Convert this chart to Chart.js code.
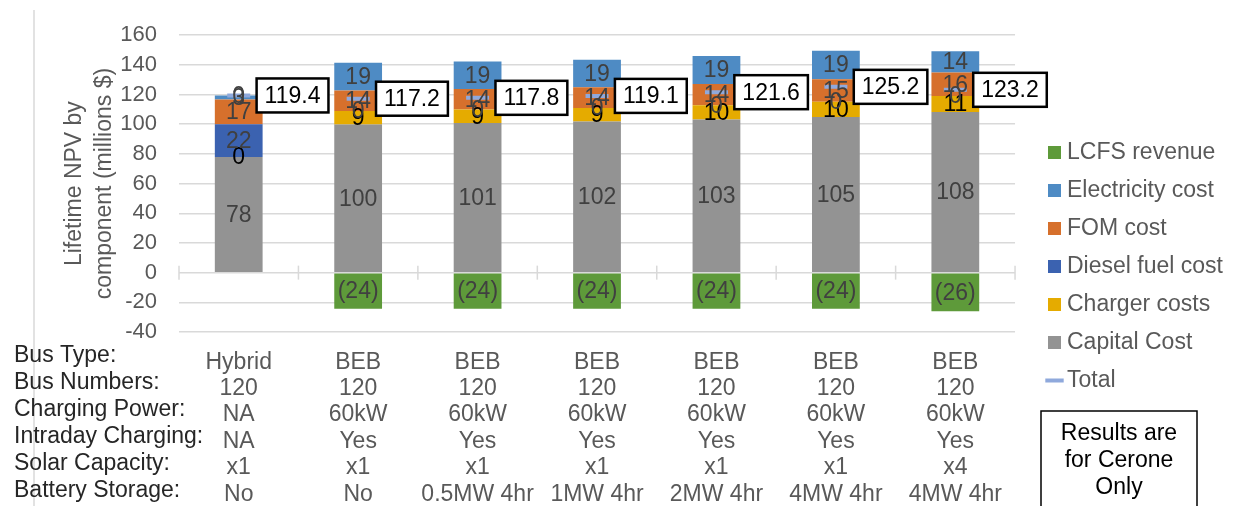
<!DOCTYPE html>
<html>
<head>
<meta charset="utf-8">
<script src="https://cdn.jsdelivr.net/npm/chart.js@4"></script>
<style>
  html, body { margin: 0; padding: 0; background: #ffffff; }
  #wrap { width: 1237px; height: 506px; position: relative; }
</style>
</head>
<body>
<div id="wrap"><canvas id="c" width="1237" height="506"></canvas></div>
<script>
// ---------------- data ----------------
const busType          = ['Hybrid', 'BEB', 'BEB', 'BEB', 'BEB', 'BEB', 'BEB'];
const busNumbers       = ['120', '120', '120', '120', '120', '120', '120'];
const chargingPower    = ['NA', '60kW', '60kW', '60kW', '60kW', '60kW', '60kW'];
const intradayCharging = ['NA', 'Yes', 'Yes', 'Yes', 'Yes', 'Yes', 'Yes'];
const solarCapacity    = ['x1', 'x1', 'x1', 'x1', 'x1', 'x1', 'x4'];
const batteryStorage   = ['No', 'No', '0.5MW 4hr', '1MW 4hr', '2MW 4hr', '4MW 4hr', '4MW 4hr'];
const rowTitles = ['Bus Type:', 'Bus Numbers:', 'Charging Power:', 'Intraday Charging:', 'Solar Capacity:', 'Battery Storage:'];

const capitalCost     = [77.9, 99.8, 100.9, 101.8, 103.2, 104.8, 108.2];
const chargerCosts    = [0, 9.1, 9.0, 9.2, 9.6, 10.3, 10.9];
const dieselFuelCost  = [22.1, 0, 0, 0, 0, 0, 0];
const fomCost         = [16.6, 13.9, 13.8, 14.0, 14.3, 15.2, 15.8];
const electricityCost = [2.8, 18.7, 18.5, 18.5, 18.8, 19.3, 14.3];
const lcfsRevenue     = [0, -24.3, -24.4, -24.4, -24.3, -24.4, -26.0];
const totalNPV        = [119.4, 117.2, 117.8, 119.1, 121.6, 125.2, 123.2];

const yTitle = ['Lifetime NPV by', 'component (millions $)'];
const noteLines = ['Results are', 'for Cerone', 'Only'];

// ---------------- styling ----------------
const FONT = "'Liberation Sans', Arial, sans-serif";
Chart.defaults.font.family = FONT;
const GRID = '#D9D9D9';
const TEXT_GRAY = '#595959';

const categories = busType.map((b, i) => [b, busNumbers[i], chargingPower[i], intradayCharging[i], solarCapacity[i], batteryStorage[i]]);

const labelColors = {
  'Capital Cost': '#404040',
  'Charger costs': '#000000',
  'Diesel fuel cost': '#404040',
  'FOM cost': '#404040',
  'Electricity cost': '#404040',
  'LCFS revenue': '#404040'
};

function barDs(label, data, color) {
  return { type: 'bar', label, data, backgroundColor: color, borderWidth: 0, pointStyle: 'rect',
           barPercentage: 0.4, categoryPercentage: 1.0 };
}

const datasets = [
  { type: 'line', label: 'Total', data: totalNPV, showLine: false, order: -1,
    borderColor: '#8FA9DC', backgroundColor: '#8FA9DC', borderWidth: 4,
    pointStyle: 'line', pointRadius: 11.5, pointHoverRadius: 11.5 },
  barDs('Capital Cost', capitalCost, '#939393'),
  barDs('Charger costs', chargerCosts, '#E5AB00'),
  barDs('Diesel fuel cost', dieselFuelCost, '#3B62B0'),
  barDs('FOM cost', fomCost, '#D6702C'),
  barDs('Electricity cost', electricityCost, '#4E8BC4'),
  barDs('LCFS revenue', lcfsRevenue, '#5E9A3A')
];

const LEGEND_X = 1053.5, LEGEND_Y = 141;

const decorPlugin = {
  id: 'decor',
  afterLayout(chart) {
    const lg = chart.legend;
    if (!lg) return;
    const pad = lg.options.labels.padding;
    const dx = LEGEND_X - (lg.left + pad);
    lg.left += dx; lg.right += dx;
    const dy = LEGEND_Y - (lg.top + pad);
    lg.top += dy; lg.bottom += dy;
  },
  beforeDraw(chart) {
    const ctx = chart.ctx;
    ctx.save();
    ctx.strokeStyle = GRID; ctx.lineWidth = 1.5;
    ctx.beginPath(); ctx.moveTo(34, 10); ctx.lineTo(34, 506); ctx.stroke();
    ctx.restore();
  },
  beforeDatasetsDraw(chart) {
    const ctx = chart.ctx, xs = chart.scales.x, ys = chart.scales.y;
    const y0 = ys.getPixelForValue(0);
    const n = categories.length;
    const half = (xs.getPixelForValue(1) - xs.getPixelForValue(0)) / 2;
    ctx.save();
    ctx.strokeStyle = GRID; ctx.lineWidth = 1.5;
    for (let i = 0; i <= n; i++) {
      const px = i < n ? xs.getPixelForValue(i) - half : xs.getPixelForValue(n - 1) + half;
      ctx.beginPath(); ctx.moveTo(px, y0 - 7); ctx.lineTo(px, y0 + 7); ctx.stroke();
    }
    ctx.restore();
  },
  afterDatasetsDraw(chart) {
    const ctx = chart.ctx;
    ctx.save();
    ctx.font = '23px ' + FONT;
    ctx.textAlign = 'center'; ctx.textBaseline = 'middle';
    chart.data.datasets.forEach((ds, di) => {
      if (ds.type !== 'bar') return;
      const meta = chart.getDatasetMeta(di);
      meta.data.forEach((el, j) => {
        const v = ds.data[j];
        const r = Math.round(Math.abs(v));
        const txt = v < 0 ? '(' + r + ')' : String(r);
        ctx.fillStyle = labelColors[ds.label];
        ctx.fillText(txt, el.x, (el.y + el.base) / 2 + 1);
      });
    });
    // total boxes
    const tMeta = chart.getDatasetMeta(0);
    const bMeta = chart.getDatasetMeta(1);
    tMeta.data.forEach((el, j) => {
      const txt = totalNPV[j].toFixed(1);
      ctx.font = '23px ' + FONT;
      const w = ctx.measureText(txt).width + 16;
      const h = 34;
      const bar = bMeta.data[j];
      const left = bar.x + bar.width / 2 - 6;
      const top = el.y - h / 2;
      ctx.fillStyle = '#ffffff';
      ctx.fillRect(left, top, w, h);
      ctx.strokeStyle = '#000000'; ctx.lineWidth = 2.5;
      ctx.strokeRect(left, top, w, h);
      ctx.fillStyle = '#000000';
      ctx.fillText(txt, left + w / 2, el.y + 1);
    });
    ctx.restore();
  },
  afterDraw(chart) {
    const ctx = chart.ctx;
    ctx.save();
    ctx.font = '23px ' + FONT;
    ctx.textBaseline = 'middle';
    ctx.textAlign = 'left';
    ctx.fillStyle = '#262626';
    rowTitles.forEach((t, i) => ctx.fillText(t, 14, 356 + 27 * i));
    // note box
    ctx.strokeStyle = '#000000'; ctx.lineWidth = 1.5;
    ctx.strokeRect(1041, 411, 156, 110);
    ctx.fillStyle = '#000000';
    ctx.textAlign = 'center';
    noteLines.forEach((t, i) => ctx.fillText(t, 1119, 434 + 27 * i));
    ctx.restore();
  }
};

new Chart(document.getElementById('c'), {
  data: { labels: categories, datasets },
  options: {
    responsive: false,
    animation: false,
    devicePixelRatio: 1,
    layout: { padding: { top: 33, right: 27.5, left: 0, bottom: 0 } },
    plugins: {
      tooltip: { enabled: false },
      legend: {
        position: 'right',
        align: 'start',
        reverse: true,
        labels: {
          font: { size: 23, family: FONT },
          color: TEXT_GRAY,
          usePointStyle: true,
          boxWidth: 2,
          boxHeight: 13,
          padding: 15
        }
      }
    },
    scales: {
      x: {
        stacked: true,
        grid: { display: false, drawTicks: false },
        border: { display: false },
        ticks: {
          autoSkip: false, maxRotation: 0, minRotation: 0,
          color: TEXT_GRAY, padding: 17,
          font: { size: 23, lineHeight: 1.148, family: FONT }
        },
        afterFit(s) { s.height = 174; }
      },
      y: {
        stacked: true,
        min: -40, max: 160,
        ticks: { stepSize: 20, color: TEXT_GRAY, padding: 22, font: { size: 22, family: FONT } },
        grid: { color: GRID, lineWidth: 1.5, drawTicks: false },
        border: { display: false },
        title: {
          display: true, text: yTitle, color: TEXT_GRAY,
          font: { size: 23, lineHeight: 1.3, family: FONT },
          padding: { top: 59.5, bottom: 0 }
        },
        afterFit(s) { s.width = 179; }
      }
    }
  },
  plugins: [decorPlugin]
});
</script>
</body>
</html>
